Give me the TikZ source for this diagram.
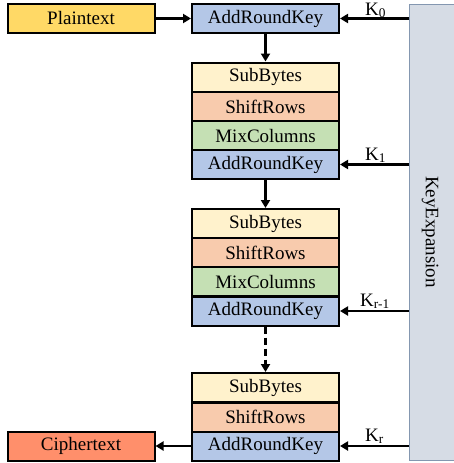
\documentclass[tikz,border=0pt]{standalone}
\usepackage{fontspec}
\setmainfont{Liberation Serif}
\usetikzlibrary{arrows.meta}
\definecolor{cPlain}{HTML}{FFD966}
\definecolor{cARK}{HTML}{B4C7E7}
\definecolor{cSub}{HTML}{FFF2CC}
\definecolor{cShift}{HTML}{F8CBAD}
\definecolor{cMix}{HTML}{C5E0B4}
\definecolor{cCipher}{HTML}{FF8F6B}
\definecolor{cKeyFill}{HTML}{D6DCE5}
\definecolor{cKeyDraw}{HTML}{8497B0}
\begin{document}
\begin{tikzpicture}[x=1pt,y=-1pt,
  font=\fontsize{19}{22}\selectfont,
  blk/.style={draw=black,line width=2pt,minimum width=147pt,minimum height=29pt,inner sep=0pt,anchor=center},
  arr/.style={line width=2.6pt,-{Triangle[length=8pt,width=9pt]}},
  klab/.style={inner sep=0pt,anchor=base west}]
\useasboundingbox (0,0) rectangle (454,463);
% key expansion
\node[draw=cKeyDraw,fill=cKeyFill,line width=1pt,minimum width=52pt,minimum height=456pt,inner sep=0pt,anchor=north west] (ke) at (409,4) {};
\node[rotate=-90] (ketext) at (430,232) {KeyExpansion};
% top row
\node[blk,fill=cPlain] (pt) at (81,18.5) {Plaintext};
\node[blk,fill=cARK] (ark0) at (265.5,18.5) {AddRoundKey};
% round 1
\node[blk,fill=cSub] (sb1) at (265.5,77) {SubBytes};
\node[blk,fill=cShift] (sr1) at (265.5,106.5) {ShiftRows};
\node[blk,fill=cMix] (mc1) at (265.5,135.5) {MixColumns};
\node[blk,fill=cARK] (ark1) at (265.5,164.5) {AddRoundKey};
% round 2
\node[blk,fill=cSub] (sb2) at (265.5,223.5) {SubBytes};
\node[blk,fill=cShift] (sr2) at (265.5,252.5) {ShiftRows};
\node[blk,fill=cMix] (mc2) at (265.5,281.5) {MixColumns};
\node[blk,fill=cARK] (ark2) at (265.5,311) {AddRoundKey};
% final round
\node[blk,fill=cSub] (sb3) at (265.5,387.5) {SubBytes};
\node[blk,fill=cShift] (sr3) at (265.5,417) {ShiftRows};
\node[blk,fill=cARK] (ark3) at (265.5,446) {AddRoundKey};
\node[blk,fill=cCipher] (ct) at (81,446) {Ciphertext};
% main flow
\draw[arr] (pt.east) -- (ark0.west);
\draw[arr] (ark0.south) -- (sb1.north);
\draw[arr] (ark1.south) -- (sb2.north);
\draw[arr,dashed,dash pattern=on 7pt off 4pt] (ark2.south) -- (sb3.north);
\draw[arr] (ark3.west) -- (ct.east);
% key arrows
\draw[arr] (ke.west |- ark0.east) -- (ark0.east);
\draw[arr] (ke.west |- ark1.east) -- (ark1.east);
\draw[arr] (ke.west |- ark2.east) -- (ark2.east);
\draw[arr] (ke.west |- ark3.east) -- (ark3.east);
\node[klab] (k0) at (365,15) {K\textsubscript{0}};
\node[klab] (k1) at (365,160) {K\textsubscript{1}};
\node[klab] (kr1) at (360,306) {K\textsubscript{r-1}};
\node[klab] (kr) at (365,441) {K\textsubscript{r}};
\end{tikzpicture}
\end{document}
